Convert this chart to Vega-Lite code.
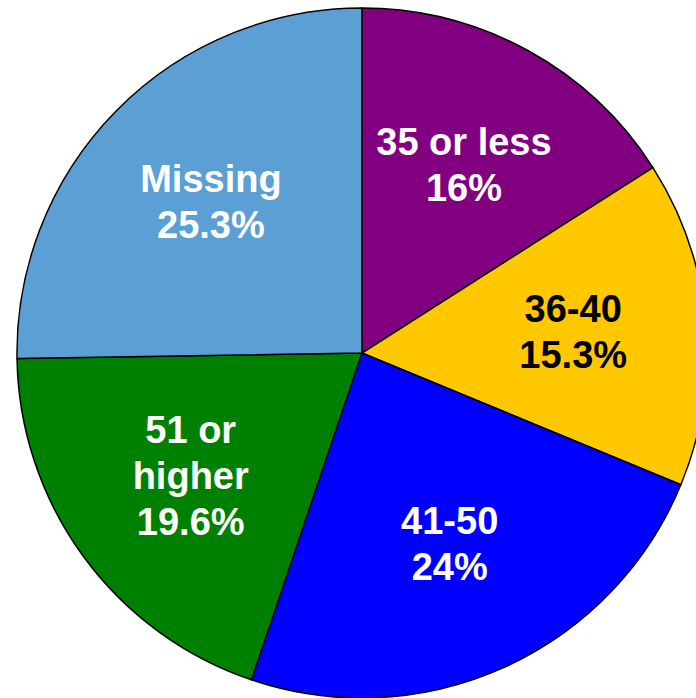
{
  "$schema": "https://vega.github.io/schema/vega-lite/v6.json",
  "width": 724,
  "height": 706,
  "autosize": "none",
  "padding": 0,
  "background": "white",
  "view": {"stroke": null},
  "data": {
    "values": [
      {"group": "35 or less", "value": 16, "label": "35 or less\n16%", "order": 1},
      {"group": "36-40", "value": 15.3, "label": "36-40\n15.3%", "order": 2},
      {"group": "41-50", "value": 24, "label": "41-50\n24%", "order": 3},
      {"group": "51 or higher", "value": 19.6, "label": "51 or\nhigher\n19.6%", "order": 4},
      {"group": "Missing", "value": 25.3, "label": "Missing\n25.3%", "order": 5}
    ]
  },
  "encoding": {
    "theta": {"field": "value", "type": "quantitative", "stack": true},
    "order": {"field": "order", "type": "quantitative"}
  },
  "layer": [
    {
      "mark": {"type": "arc", "radius": 345, "stroke": "black", "strokeWidth": 1.5},
      "encoding": {
        "color": {
          "field": "group",
          "type": "nominal",
          "scale": {
            "domain": ["35 or less", "36-40", "41-50", "51 or higher", "Missing"],
            "range": ["#800080", "#FFC800", "#0000FF", "#008000", "#5B9FD4"]
          },
          "legend": null
        }
      }
    },
    {
      "mark": {
        "type": "text",
        "radius": 212,
        "font": "Liberation Sans",
        "fontWeight": "bold",
        "fontSize": 38,
        "lineBreak": "\n",
        "lineHeight": 46,
        "align": "center",
        "baseline": "middle",
        "dy": -23
      },
      "encoding": {
        "text": {
          "condition": {"test": "datum.group !== '51 or higher'", "field": "label", "type": "nominal"},
          "value": ""
        },
        "color": {
          "condition": {"test": "datum.group === '36-40'", "value": "black"},
          "value": "white"
        }
      }
    },
    {
      "mark": {
        "type": "text",
        "radius": 212,
        "font": "Liberation Sans",
        "fontWeight": "bold",
        "fontSize": 38,
        "lineBreak": "\n",
        "lineHeight": 46,
        "align": "center",
        "baseline": "middle",
        "dy": -46
      },
      "encoding": {
        "text": {
          "condition": {"test": "datum.group === '51 or higher'", "field": "label", "type": "nominal"},
          "value": ""
        },
        "color": {"value": "white"}
      }
    }
  ]
}
